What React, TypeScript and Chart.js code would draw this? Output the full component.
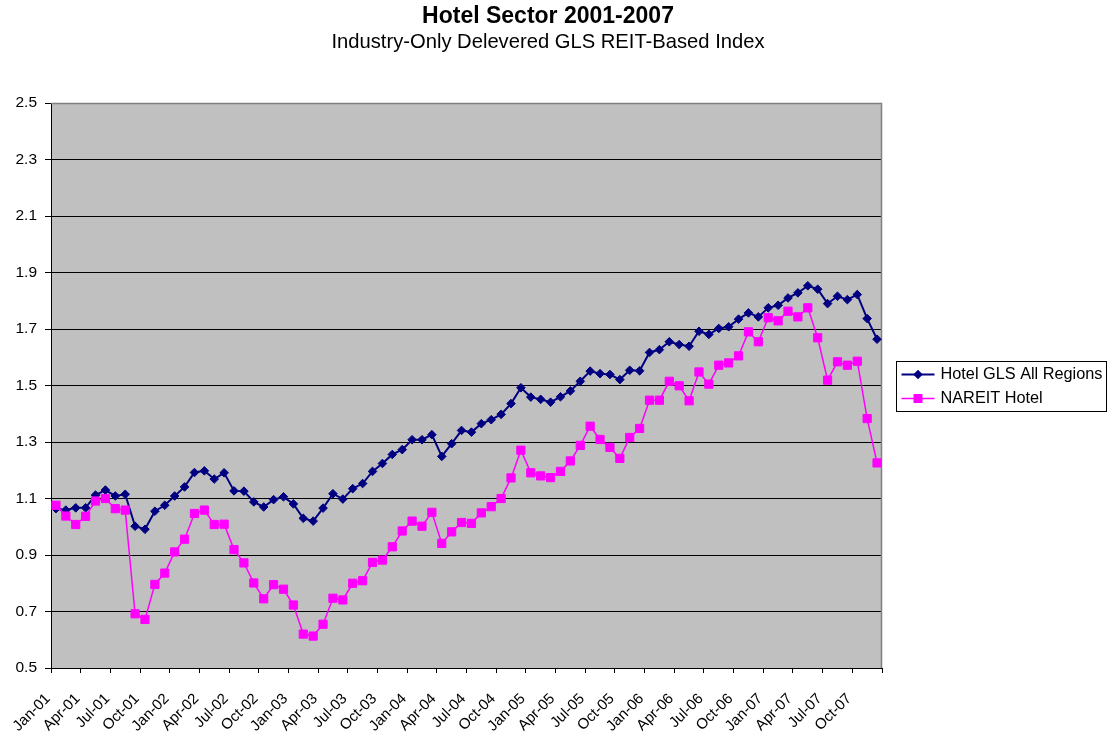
import React, { useEffect, useRef } from "react";
import { Chart, registerables } from "chart.js";

Chart.register(...registerables);

const FONT = "Arial, 'Liberation Sans', sans-serif";

const TITLE = "Hotel Sector 2001-2007";
const SUBTITLE = "Industry-Only Delevered GLS REIT-Based Index";

const YEARS = ["01", "02", "03", "04", "05", "06", "07"];
const MONTH_NAMES = ["Jan", "Feb", "Mar", "Apr", "May", "Jun", "Jul", "Aug", "Sep", "Oct", "Nov", "Dec"];
const MONTHS: string[] = YEARS.flatMap((y) => MONTH_NAMES.map((m) => `${m}-${y}`));

const X_TICK_LABELS = [
  "Jan-01", "Apr-01", "Jul-01", "Oct-01",
  "Jan-02", "Apr-02", "Jul-02", "Oct-02",
  "Jan-03", "Apr-03", "Jul-03", "Oct-03",
  "Jan-04", "Apr-04", "Jul-04", "Oct-04",
  "Jan-05", "Apr-05", "Jul-05", "Oct-05",
  "Jan-06", "Apr-06", "Jul-06", "Oct-06",
  "Jan-07", "Apr-07", "Jul-07", "Oct-07",
];

const Y_TICKS = [0.5, 0.7, 0.9, 1.1, 1.3, 1.5, 1.7, 1.9, 2.1, 2.3, 2.5];

const SERIES_NAMES = ["Hotel GLS All Regions", "NAREIT Hotel"];

const GLS_ALL_REGIONS = [
  1.064, 1.059, 1.067, 1.067, 1.112, 1.130, 1.109, 1.115, 1.002, 0.991,
  1.055, 1.076, 1.109, 1.141, 1.192, 1.198, 1.169, 1.191, 1.127, 1.126,
  1.088, 1.070, 1.096, 1.106, 1.081, 1.030, 1.020, 1.066, 1.117, 1.098,
  1.135, 1.153, 1.196, 1.224, 1.256, 1.273, 1.308, 1.308, 1.326, 1.249,
  1.294, 1.341, 1.335, 1.365, 1.379, 1.398, 1.436, 1.492, 1.459, 1.451,
  1.441, 1.460, 1.481, 1.515, 1.551, 1.542, 1.539, 1.521, 1.554, 1.552,
  1.617, 1.627, 1.655, 1.645, 1.639, 1.692, 1.681, 1.702, 1.708, 1.735,
  1.757, 1.743, 1.775, 1.784, 1.810, 1.828, 1.853, 1.841, 1.790, 1.816,
  1.804, 1.822, 1.737, 1.664,
];

const NAREIT_HOTEL = [
  1.076, 1.038, 1.008, 1.037, 1.091, 1.100, 1.064, 1.059, 0.692, 0.672,
  0.796, 0.836, 0.911, 0.956, 1.047, 1.059, 1.008, 1.009, 0.919, 0.872,
  0.801, 0.745, 0.795, 0.779, 0.723, 0.620, 0.613, 0.655, 0.747, 0.741,
  0.800, 0.809, 0.874, 0.882, 0.929, 0.985, 1.020, 1.002, 1.051, 0.941,
  0.982, 1.015, 1.012, 1.049, 1.071, 1.100, 1.173, 1.271, 1.191, 1.180,
  1.174, 1.196, 1.233, 1.288, 1.356, 1.309, 1.281, 1.242, 1.316, 1.348,
  1.448, 1.448, 1.515, 1.499, 1.446, 1.548, 1.505, 1.572, 1.580, 1.605,
  1.690, 1.655, 1.740, 1.729, 1.763, 1.743, 1.775, 1.669, 1.519, 1.584,
  1.572, 1.586, 1.383, 1.226,
];

const NAVY = "#000080";
const PINK = "#FF00FF";

const plotBackground = {
  id: "plotBackground",
  beforeDraw(chart: any) {
    const { ctx, chartArea: a } = chart;
    ctx.save();
    ctx.fillStyle = "#C0C0C0";
    ctx.fillRect(a.left, a.top, a.right - a.left, a.bottom - a.top);
    ctx.restore();
  },
  beforeDatasetsDraw(chart: any) {
    const { ctx, chartArea: a } = chart;
    ctx.save();
    ctx.strokeStyle = "#808080";
    ctx.lineWidth = 1.5;
    ctx.beginPath();
    ctx.moveTo(a.left, a.top + 0.5);
    ctx.lineTo(a.right - 0.5, a.top + 0.5);
    ctx.lineTo(a.right - 0.5, a.bottom);
    ctx.stroke();
    ctx.restore();
  },
};

const boxLegend = {
  id: "boxLegend",
  afterDraw(chart: any) {
    const { ctx } = chart;
    const a = chart.chartArea;
    const left = a.right + 14.5;
    const width = 210;
    const rowH = 24;
    const n = chart.data.datasets.length;
    const height = n * rowH + 2;
    const midY = (a.top + a.bottom) / 2;
    const top = Math.round(midY - height / 2) + 0.5;
    ctx.save();
    ctx.strokeStyle = "#000";
    ctx.lineWidth = 1;
    ctx.strokeRect(left, top, width, height);
    chart.data.datasets.forEach((ds: any, i: number) => {
      const y = top + 13 + i * rowH;
      const x0 = left + 5;
      const x1 = left + 38;
      ctx.strokeStyle = ds.borderColor;
      ctx.lineWidth = ds.borderWidth;
      ctx.beginPath();
      ctx.moveTo(x0, y);
      ctx.lineTo(x1, y);
      ctx.stroke();
      const cx = (x0 + x1) / 2;
      ctx.fillStyle = ds.pointBackgroundColor;
      ctx.beginPath();
      if (ds.pointStyle === "rectRot") {
        const r = 4.8;
        ctx.moveTo(cx, y - r);
        ctx.lineTo(cx + r, y);
        ctx.lineTo(cx, y + r);
        ctx.lineTo(cx - r, y);
        ctx.closePath();
      } else {
        const h = 4.5;
        ctx.rect(cx - h, y - h, 2 * h, 2 * h);
      }
      ctx.fill();
      ctx.fillStyle = "#000";
      ctx.font = `16.3px ${FONT}`;
      ctx.textAlign = "left";
      ctx.textBaseline = "middle";
      ctx.fillText(ds.label, left + 44, y);
    });
    ctx.restore();
  },
};

export default function App() {
  const canvasRef = useRef<HTMLCanvasElement | null>(null);

  useEffect(() => {
    if (!canvasRef.current) return;
    const xTickValues = X_TICK_LABELS.map((_, k) => -0.5 + 3 * k).concat([MONTHS.length - 0.5]);
    const chart = new Chart(canvasRef.current, {
      type: "line",
      data: {
        labels: MONTHS,
        datasets: [
          {
            label: SERIES_NAMES[0],
            data: GLS_ALL_REGIONS.map((v, i) => ({ x: i, y: v })),
            borderColor: NAVY,
            backgroundColor: NAVY,
            pointBackgroundColor: NAVY,
            pointBorderColor: NAVY,
            borderWidth: 2,
            pointStyle: "rectRot",
            pointRadius: 4.3,
            pointBorderWidth: 1,
            tension: 0,
            order: 1,
          },
          {
            label: SERIES_NAMES[1],
            data: NAREIT_HOTEL.map((v, i) => ({ x: i, y: v })),
            borderColor: PINK,
            backgroundColor: PINK,
            pointBackgroundColor: PINK,
            pointBorderColor: PINK,
            borderWidth: 1.5,
            pointStyle: "rect",
            pointRadius: 5.8,
            pointBorderWidth: 1,
            tension: 0,
            order: 0,
          },
        ] as any,
      },
      options: {
        animation: false,
        responsive: false,
        layout: { padding: { left: 0, right: 12, top: 0, bottom: 0 } },
        plugins: {
          legend: { display: false },
          tooltip: { enabled: false },
          title: {
            display: true,
            text: TITLE,
            color: "#000",
            font: { family: FONT, size: 23, weight: "bold" },
            padding: { top: 3, bottom: 0 },
          },
          subtitle: {
            display: true,
            text: SUBTITLE,
            color: "#000",
            font: { family: FONT, size: 20.2, weight: "normal" },
            padding: { top: 0, bottom: 48.2 },
          },
        },
        scales: {
          x: {
            type: "linear",
            min: -0.5,
            max: MONTHS.length - 0.5,
            afterBuildTicks: (scale: any) => {
              scale.ticks = xTickValues.map((v) => ({ value: v }));
            },
            afterFit: (scale: any) => {
              scale.height = 70;
            },
            grid: {
              drawOnChartArea: false,
              drawTicks: true,
              tickLength: 5,
              tickColor: "#000",
              color: "#000",
            },
            border: { display: true, color: "#000", width: 1 },
            ticks: {
              autoSkip: false,
              minRotation: 45,
              maxRotation: 45,
              padding: 17,
              labelOffset: -3,
              color: "#000",
              font: { family: FONT, size: 15 },
              callback: (_v: any, index: number) => X_TICK_LABELS[index] ?? "",
            },
          },
          y: {
            type: "linear",
            position: "left",
            min: Y_TICKS[0],
            max: Y_TICKS[Y_TICKS.length - 1],
            afterBuildTicks: (scale: any) => {
              scale.ticks = Y_TICKS.map((v) => ({ value: v }));
            },
            afterFit: (scale: any) => {
              scale.width = 51;
            },
            grid: {
              color: (c: any) => (c.tick && c.tick.value === Y_TICKS[Y_TICKS.length - 1] ? "#808080" : "#000"),
              tickColor: "#000",
              tickLength: 6,
              lineWidth: 1,
            },
            border: { display: true, color: "#000", width: 1 },
            ticks: {
              padding: 8,
              color: "#000",
              font: { family: FONT, size: 15.5 },
              callback: (v: any) => Number(v).toFixed(1),
            },
          },
          yRight: {
            type: "linear",
            position: "right",
            display: true,
            afterFit: (scale: any) => {
              scale.width = 214;
            },
            grid: { display: false, drawTicks: false },
            border: { display: false },
            ticks: { display: false },
          },
        },
      } as any,
      plugins: [plotBackground, boxLegend],
    });
    return () => chart.destroy();
  }, []);

  return (
    <div style={{ position: "absolute", left: 0, top: 0, width: 1108, height: 738, background: "#fff" }}>
      <canvas ref={canvasRef} width={1108} height={738} style={{ display: "block" }} />
    </div>
  );
}
